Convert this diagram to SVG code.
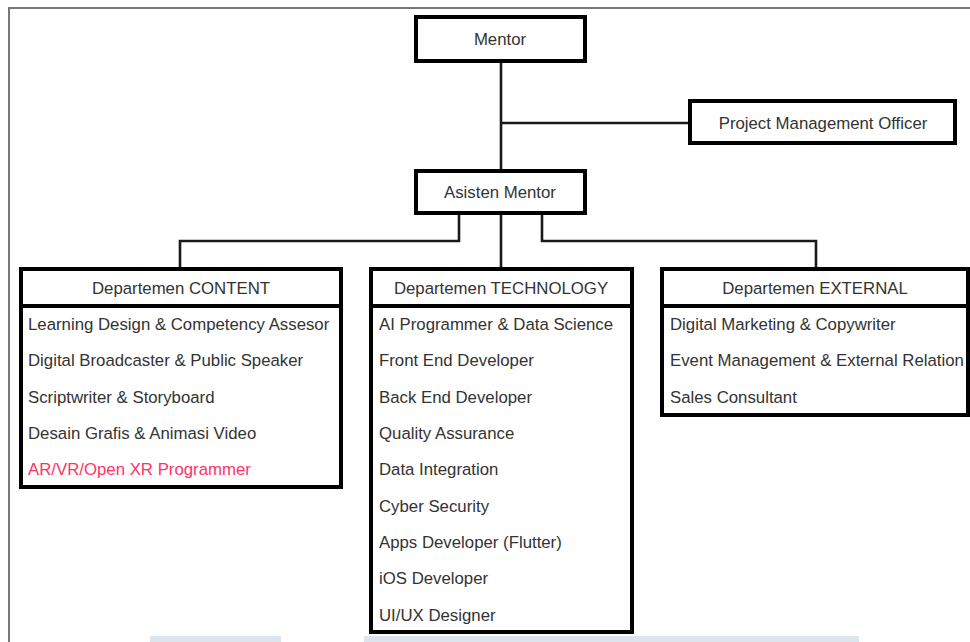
<svg xmlns="http://www.w3.org/2000/svg" width="970" height="642" viewBox="0 0 970 642">
<style>
.box{fill:#fff;stroke:#000;stroke-width:4}
.div{stroke:#000;stroke-width:4}
.conn{fill:none;stroke:#1a1a1a;stroke-width:2.6}
text{font-family:"Liberation Sans",Arial,sans-serif;font-size:16.8px;fill:#333}
.c{text-anchor:middle}
.red{fill:#ff3366}
</style>
<rect width="970" height="642" fill="#fff"/>
<path d="M9,642 V8 H970" fill="none" stroke="#777" stroke-width="2"/>
<rect x="150" y="636" width="131" height="6" fill="#dde5ec"/>
<rect x="364" y="636" width="495" height="6" fill="#dde5ec"/>
<g id="connectors">
<path class="conn" d="M501,62 V170"/>
<path class="conn" d="M501,123 H690"/>
<path class="conn" d="M459,213 V241 H180 V269"/>
<path class="conn" d="M501,213 V269"/>
<path class="conn" d="M542,213 V241 H816 V269"/>
</g>
<g id="mentor">
<rect class="box" x="416" y="17" width="169" height="44"/>
<text class="c" x="500" y="45">Mentor</text>
</g>
<g id="pmo">
<rect class="box" x="690" y="101" width="265" height="42"/>
<text class="c" x="823" y="129">Project Management Officer</text>
</g>
<g id="asisten">
<rect class="box" x="416" y="171" width="169" height="42"/>
<text class="c" x="500" y="198">Asisten Mentor</text>
</g>
<g id="content">
<rect class="box" x="21" y="269" width="320" height="218"/>
<line class="div" x1="21" y1="306" x2="341" y2="306"/>
<text class="c" x="181" y="294">Departemen CONTENT</text>
<text x="28" y="330">Learning Design &amp; Competency Assesor</text>
<text x="28" y="366">Digital Broadcaster &amp; Public Speaker</text>
<text x="28" y="403">Scriptwriter &amp; Storyboard</text>
<text x="28" y="439">Desain Grafis &amp; Animasi Video</text>
<text x="28" y="475" class="red">AR/VR/Open XR Programmer</text>
</g>
<g id="technology">
<rect class="box" x="371" y="269" width="261" height="363"/>
<line class="div" x1="371" y1="306" x2="632" y2="306"/>
<text class="c" x="501" y="294">Departemen TECHNOLOGY</text>
<text x="379" y="330">AI Programmer &amp; Data Science</text>
<text x="379" y="366">Front End Developer</text>
<text x="379" y="403">Back End Developer</text>
<text x="379" y="439">Quality Assurance</text>
<text x="379" y="475">Data Integration</text>
<text x="379" y="512">Cyber Security</text>
<text x="379" y="548">Apps Developer (Flutter)</text>
<text x="379" y="584">iOS Developer</text>
<text x="379" y="621">UI/UX Designer</text>
</g>
<g id="external">
<rect class="box" x="662" y="269" width="306" height="146"/>
<line class="div" x1="662" y1="306" x2="968" y2="306"/>
<text class="c" x="815" y="294">Departemen EXTERNAL</text>
<text x="670" y="330">Digital Marketing &amp; Copywriter</text>
<text x="670" y="366">Event Management &amp; External Relation</text>
<text x="670" y="403">Sales Consultant</text>
</g>
</svg>
